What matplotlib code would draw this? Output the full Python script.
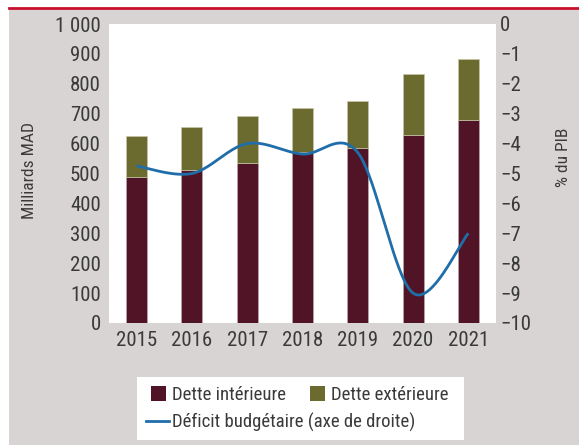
import numpy as np
import matplotlib
matplotlib.use("Agg")
import matplotlib.pyplot as plt
from matplotlib import font_manager as fm
from matplotlib.patches import Rectangle, Patch
from matplotlib.lines import Line2D
from matplotlib.ticker import FuncFormatter, MultipleLocator

# --- pick a condensed face if one is installed ---
def _is_cond(f):
    s = f.stretch
    if isinstance(s, str):
        cond = 'condensed' in s.lower()
    else:
        try:
            cond = int(s) < 500
        except Exception:
            cond = False
    return cond or 'narrow' in f.name.lower() or 'condensed' in f.name.lower()

_pref = ['Liberation Sans Narrow', 'Roboto Condensed', 'Open Sans Condensed', 'Noto Sans',
         'Roboto', 'Open Sans', 'DejaVu Sans']
_chosen = None
_cands = [f for f in fm.fontManager.ttflist if _is_cond(f)]
for p in _pref:
    for f in _cands:
        if f.name == p and f.style == 'normal':
            w = f.weight if isinstance(f.weight, int) else 400
            if w in (300, 400, 'normal', 'light'):
                _chosen = f
                break
    if _chosen is not None:
        break

if _chosen is not None:
    plt.rcParams['font.family'] = [_chosen.name, 'DejaVu Sans']
    plt.rcParams['font.stretch'] = _chosen.stretch
    plt.rcParams['font.weight'] = _chosen.weight
    FS_TICK, FS_LEG, FS_LAB = 15, 13.5, 12.5
else:
    plt.rcParams['font.family'] = ['Liberation Sans', 'DejaVu Sans']
    FS_TICK, FS_LEG, FS_LAB = 13.5, 12, 11.5

years = ['2015', '2016', '2017', '2018', '2019', '2020', '2021']
dette_interieure = [487, 512, 536, 573, 584, 630, 679]
dette_totale = [626, 654, 692, 719, 743, 832, 883]
dette_exterieure = [t - d for t, d in zip(dette_totale, dette_interieure)]
deficit = [-4.75, -5.0, -4.0, -4.35, -4.3, -9.0, -7.0]

C_INT = '#501426'
C_EXT = '#6c6b2f'
C_LINE = '#1f6eaa'
C_BG = '#d9d4d4'
C_TXT = '#3a3a3a'

W, H = 579, 445
fig = plt.figure(figsize=(W / 100, H / 100), dpi=100, facecolor='white')

fig.patches.append(Rectangle((9 / W, 0), 1 - 9 / W, 1 - 8.5 / H, transform=fig.transFigure,
                             facecolor=C_BG, edgecolor='none', zorder=-10))
fig.lines.append(Line2D([9 / W, 1], [1 - 7.5 / H, 1 - 7.5 / H], transform=fig.transFigure,
                        color='#c8102e', linewidth=2.0))

ax = fig.add_axes([109 / W, 1 - 323 / H, (496 - 109) / W, (323 - 24) / H])
ax.set_facecolor('white')
x = np.arange(len(years))
bw = 0.38
ax.bar(x, dette_interieure, bw, color=C_INT, edgecolor='#b8a8a8', linewidth=0.5, zorder=2)
ax.bar(x, dette_exterieure, bw, bottom=dette_interieure, color=C_EXT,
       edgecolor='#c8c4a8', linewidth=0.5, zorder=2)
ax.set_xlim(-0.5, len(years) - 0.5)
ax.set_ylim(0, 1000)
ax.yaxis.set_major_locator(MultipleLocator(100))
ax.yaxis.set_major_formatter(FuncFormatter(lambda v, p: f"{int(v):,}".replace(',', ' ')))
ax.set_xticks(x)
ax.set_xticklabels(years)
for s in ax.spines.values():
    s.set_visible(False)
ax.tick_params(axis='both', length=0, labelsize=FS_TICK, colors=C_TXT)
ax.tick_params(axis='y', pad=6)
ax.tick_params(axis='x', pad=6)
ax.set_ylabel('Milliards MAD', fontsize=FS_LAB, color=C_TXT)
ax.yaxis.set_label_coords((30 - 109) / (496 - 109), 0.51)
ax.yaxis.label.set_va('center')
ax.yaxis.label.set_ha('center')

ax2 = ax.twinx()
ax2.set_ylim(-10, 0)
ax2.yaxis.set_major_locator(MultipleLocator(1))
for s in ax2.spines.values():
    s.set_visible(False)
ax2.tick_params(axis='y', length=0, labelsize=FS_TICK, colors=C_TXT, pad=3)
ax2.set_ylabel('% du PIB', fontsize=FS_LAB, color=C_TXT)
ax2.yaxis.set_label_coords((564 - 109) / (496 - 109), 0.553)
ax2.yaxis.label.set_va('center')
ax2.yaxis.label.set_ha('center')

# smoothed line (Excel-style Bezier through the data points)
px = x.astype(float)
py = np.array(deficit, dtype=float)
n = len(px)
xs, ys = [], []
t = np.linspace(0, 1, 40)
for i in range(n - 1):
    p0 = np.array([px[max(i - 1, 0)], py[max(i - 1, 0)]])
    p1 = np.array([px[i], py[i]])
    p2 = np.array([px[i + 1], py[i + 1]])
    p3 = np.array([px[min(i + 2, n - 1)], py[min(i + 2, n - 1)]])
    c1 = p1 + (p2 - p0) / 6
    c2 = p2 - (p3 - p1) / 6
    b = ((1 - t) ** 3)[:, None] * p1 + (3 * (1 - t) ** 2 * t)[:, None] * c1 \
        + (3 * (1 - t) * t ** 2)[:, None] * c2 + (t ** 3)[:, None] * p2
    xs.extend(b[:, 0]); ys.extend(b[:, 1])
ax2.plot(xs, ys, color=C_LINE, linewidth=2.0, solid_capstyle='butt', zorder=3)

# legend box
fig.patches.append(Rectangle((137 / W, 1 - 440 / H), (464 - 137) / W, (440 - 377) / H,
                             transform=fig.transFigure, facecolor='white', edgecolor='none', zorder=1))
h1 = [Patch(facecolor=C_INT, edgecolor='none'), Patch(facecolor=C_EXT, edgecolor='none')]
leg1 = fig.legend(h1, ['Dette intérieure', 'Dette extérieure'], ncol=2, frameon=False,
                  loc='center left', bbox_to_anchor=(151 / W, 1 - 395 / H), borderpad=0,
                  borderaxespad=0, fontsize=FS_LEG, handlelength=0.82, handleheight=0.82,
                  handletextpad=0.28, columnspacing=1.3, labelcolor=C_TXT)
leg1.set_zorder(2)
h2 = [Line2D([], [], color=C_LINE, linewidth=2.0)]
leg2 = fig.legend(h2, ['Déficit budgétaire (axe de droite)'], frameon=False,
                  loc='center left', bbox_to_anchor=(146 / W, 1 - 422 / H), borderpad=0,
                  borderaxespad=0, fontsize=FS_LEG, handlelength=1.2,
                  handletextpad=0.18, labelcolor=C_TXT)
leg2.set_zorder(2)

fig.savefig('out.png', dpi=100, facecolor='white')
